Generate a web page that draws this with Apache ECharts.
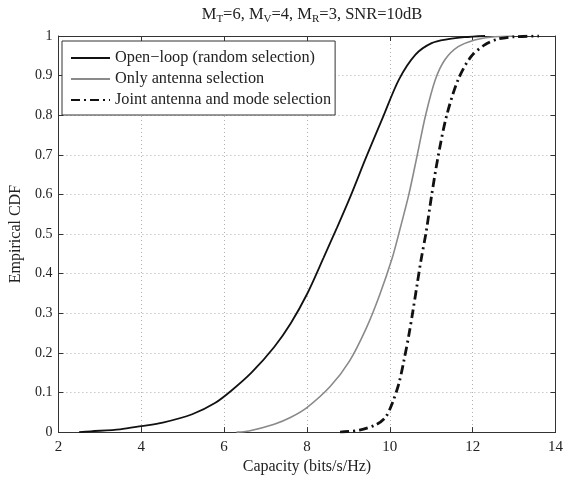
<!DOCTYPE html>
<html><head><meta charset="utf-8">
<script src="https://cdn.jsdelivr.net/npm/echarts@6/dist/echarts.min.js"></script>
<style>html,body{margin:0;padding:0;background:#fff}#c{width:566px;height:480px}</style>
</head><body><div id="c"></div>
<script>
const xTicks = [2, 4, 6, 8, 10, 12, 14];
const seriesNames = ['Open\u2212loop (random selection)', 'Only antenna selection', 'Joint antenna and mode selection'];
const openX = [2.5, 2.78, 3.49, 4.0, 4.52, 5.23, 5.79, 6.18, 6.66, 7.21, 7.61, 8.0, 8.4, 8.72, 9.03, 9.43, 9.83, 10.22, 10.62, 11.01, 11.41, 11.8, 12.3];
const openY = [0, 0.002, 0.007, 0.015, 0.024, 0.045, 0.074, 0.105, 0.150, 0.215, 0.275, 0.348, 0.44, 0.515, 0.59, 0.694, 0.794, 0.89, 0.953, 0.982, 0.992, 0.997, 1.0];
const antX = [6.3, 6.6, 7.21, 7.6, 8.0, 8.56, 9.03, 9.43, 9.75, 10.06, 10.24, 10.46, 10.66, 10.86, 11.1, 11.33, 11.65, 12.05, 12.43, 13.0];
const antY = [0, 0.003, 0.02, 0.037, 0.062, 0.115, 0.18, 0.262, 0.345, 0.44, 0.51, 0.6, 0.698, 0.798, 0.89, 0.94, 0.973, 0.99, 0.997, 1.0];
const jointX = [8.8, 9.27, 9.67, 9.9, 10.06, 10.22, 10.34, 10.46, 10.56, 10.66, 10.75, 10.88, 11.01, 11.17, 11.37, 11.65, 11.96, 12.28, 12.6, 13.0, 13.6];
const jointY = [0, 0.005, 0.019, 0.038, 0.073, 0.123, 0.18, 0.245, 0.307, 0.373, 0.432, 0.507, 0.598, 0.698, 0.798, 0.89, 0.948, 0.977, 0.992, 0.998, 1.0];

const zip = (xs, ys) => xs.map((x, i) => [x, ys[i]]);
const FONT = 'Liberation Serif';
const chart = echarts.init(document.getElementById('c'), null, {renderer: 'canvas'});
const gridLine = {show: true, lineStyle: {color: '#b0b0b0', type: [1, 3], width: 1}};
const axisLine = {show: true, onZero: false, lineStyle: {color: '#333', width: 1}};
const tick = {show: true, inside: true, length: 5, lineStyle: {color: '#333'}};
chart.setOption({
  animation: false,
  backgroundColor: '#fff',
  title: {
    text: 'M{s|T}=6, M{s|V}=4, M{s|R}=3, SNR=10dB',
    left: 307, top: 0, textAlign: 'center',
    textStyle: {fontFamily: FONT, fontSize: 16.5, fontWeight: 'normal', color: '#222',
      rich: {s: {fontFamily: FONT, fontSize: 11, color: '#222', padding: [9, 0, 0, 0]}}}
  },
  legend: {
    left: 62, top: 41, orient: 'vertical', itemGap: 5, itemWidth: 39, itemHeight: 14,
    backgroundColor: '#fff', borderColor: '#333', borderWidth: 1, borderRadius: 0,
    padding: [9, 4, 7, 8],
    itemStyle: {opacity: 0},
    textStyle: {fontFamily: FONT, fontSize: 16.3, color: '#222'},
    data: seriesNames
  },
  grid: {left: 54, right: 7, top: 36, bottom: 44, containLabel: false},
  xAxis: [{
    type: 'value', min: 2, max: 14, interval: 2,
    name: 'Capacity (bits/s/Hz)', nameLocation: 'middle', nameGap: 26,
    nameTextStyle: {fontFamily: FONT, fontSize: 16, color: '#222'},
    axisLine, axisTick: tick, splitLine: gridLine,
    axisLabel: {fontFamily: FONT, fontSize: 15, color: '#222', margin: 7}
  }, {
    type: 'value', min: 2, max: 14, interval: 2, position: 'top',
    axisLine, axisTick: tick, axisLabel: {show: false}, splitLine: {show: false}
  }],
  yAxis: [{
    type: 'value', min: 0, max: 1, interval: 0.1,
    name: 'Empirical CDF', nameLocation: 'middle', nameGap: 33,
    nameTextStyle: {fontFamily: FONT, fontSize: 16, color: '#222'},
    axisLine, axisTick: tick, splitLine: gridLine,
    axisLabel: {fontFamily: FONT, fontSize: 14, color: '#222', margin: 6}
  }, {
    type: 'value', min: 0, max: 1, interval: 0.1, position: 'right',
    axisLine, axisTick: tick, axisLabel: {show: false}, splitLine: {show: false}
  }],
  series: [
    {name: seriesNames[0], type: 'line', data: zip(openX, openY), smooth: 0.3, symbol: 'none',
     lineStyle: {color: '#111', width: 1.8}, itemStyle: {color: '#111'}},
    {name: seriesNames[1], type: 'line', data: zip(antX, antY), smooth: 0.3, symbol: 'none',
     lineStyle: {color: '#8a8a8a', width: 1.6}, itemStyle: {color: '#8a8a8a'}},
    {name: seriesNames[2], type: 'line', data: zip(jointX, jointY), smooth: 0.3, symbol: 'none',
     lineStyle: {color: '#111', width: 2.8, type: [9, 4, 2, 4]}, itemStyle: {color: '#111'}}
  ]
});
</script></body></html>
